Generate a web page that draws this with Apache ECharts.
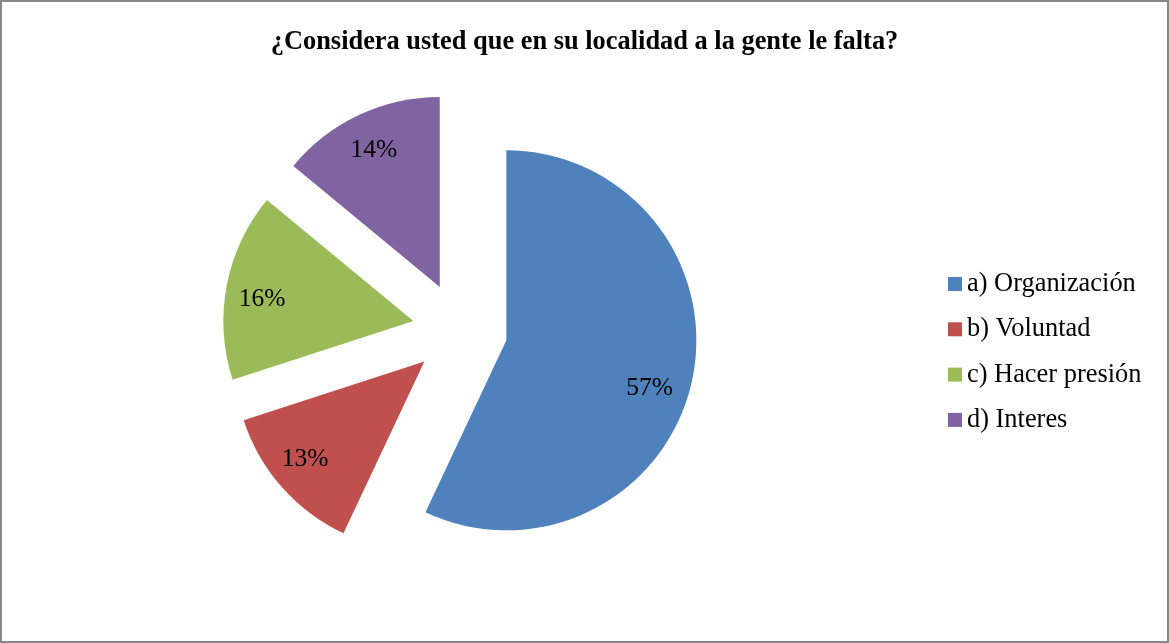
<!DOCTYPE html>
<html>
<head>
<meta charset="utf-8">
<script src="https://cdn.jsdelivr.net/npm/echarts@6/dist/echarts.min.js"></script>
<style>
  html, body { margin: 0; padding: 0; background: #ffffff; }
  #chart { width: 1169px; height: 643px; }
</style>
</head>
<body>
<div id="chart"></div>
<script>
// Survey answers and their share of responses (%)
const categories = ['a) Organización', 'b) Voluntad', 'c) Hacer presión', 'd) Interes'];
const shares = [57, 13, 16, 14];
const colors = ['#4F81BD', '#C0504D', '#9BBB59', '#8064A2'];
const titleText = '¿Considera usted que en su localidad a la gente le falta?';

// Small per-slice nudges of the percentage text (px)
const labelNudge = [[-8, 14], [-3, -5], [1, 7], [0, 4]];

const serif = '"Liberation Serif", "Times New Roman", serif';
const center = [460, 330];
const outer = 190;
const explode = 47.5;

const sliceData = categories.map((name, i) => ({
  name: name,
  value: shares[i],
  selected: true,
  itemStyle: { color: colors[i] }
}));

// Same slices again, transparent, only to carry the percentage labels
const labelData = categories.map((name, i) => ({
  name: name,
  value: shares[i],
  selected: true
}));

const chart = echarts.init(document.getElementById('chart'), null, { renderer: 'canvas' });

chart.setOption({
  animation: false,
  backgroundColor: '#ffffff',
  title: {
    text: titleText,
    left: 'center',
    top: 24,
    textStyle: { fontFamily: serif, fontSize: 26.4, fontWeight: 'bold', color: '#000000' }
  },
  legend: {
    orient: 'vertical',
    left: 943,
    top: 266,
    icon: 'rect',
    itemWidth: 14,
    itemHeight: 14,
    itemGap: 19.3,
    itemTextGap: 5,
    selectedMode: false,
    data: categories,
    textStyle: { fontFamily: serif, fontSize: 26.4, color: '#000000', lineHeight: 26 }
  },
  graphic: [{
    type: 'rect',
    shape: { x: 1, y: 1, width: 1167, height: 641 },
    style: { fill: 'none', stroke: '#888888', lineWidth: 2 },
    silent: true
  }],
  series: [
    {
      type: 'pie',
      center: center,
      radius: [0, outer],
      startAngle: 90,
      clockwise: true,
      selectedMode: 'multiple',
      selectedOffset: explode,
      avoidLabelOverlap: false,
      label: { show: false },
      labelLine: { show: false },
      itemStyle: { borderWidth: 0 },
      emphasis: { disabled: true },
      data: sliceData
    },
    {
      type: 'pie',
      center: center,
      radius: [outer * 0.6, outer],
      startAngle: 90,
      clockwise: true,
      selectedMode: 'multiple',
      selectedOffset: explode,
      avoidLabelOverlap: false,
      silent: true,
      legendHoverLink: false,
      itemStyle: { color: 'rgba(0,0,0,0)', borderWidth: 0 },
      label: {
        show: true,
        position: 'inside',
        formatter: '{c}%',
        fontFamily: serif,
        fontSize: 25.5,
        color: '#000000'
      },
      labelLayout: function (params) {
        const n = labelNudge[params.dataIndex];
        return { dx: n[0], dy: n[1] };
      },
      labelLine: { show: false },
      emphasis: { disabled: true },
      data: labelData
    }
  ]
});
</script>
</body>
</html>
